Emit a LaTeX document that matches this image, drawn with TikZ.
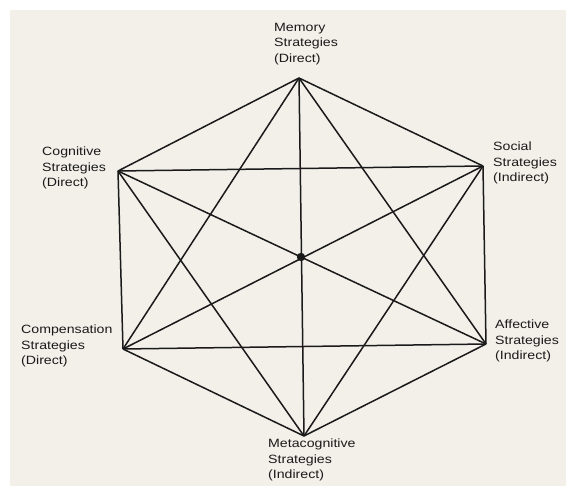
\documentclass[tikz,border=0pt]{standalone}
\usepackage{fontspec}
\setmainfont[FakeStretch=1.18]{Liberation Sans}
\definecolor{paper}{HTML}{F3F0EA}
\definecolor{ink}{HTML}{1A1A1A}
\begin{document}
\begin{tikzpicture}[x=1pt,y=-1pt,
  edge/.style={draw=ink,line width=1.5pt},
  lbl/.style={font=\fontsize{12}{15.5}\selectfont,align=left,anchor=north west,inner sep=0pt,text=ink}]
\useasboundingbox (0,0) rectangle (571,486);
\fill[white] (0,0) rectangle (571,486);
\fill[paper] (10,10) rectangle (566,486);
\coordinate (T) at (299,78);
\coordinate (UL) at (118,171);
\coordinate (UR) at (483,166);
\coordinate (LL) at (123,349);
\coordinate (LR) at (486,344);
\coordinate (B) at (304,436);
\coordinate (C) at (301,257);
\foreach \a/\b in {T/UL,T/UR,T/LL,T/LR,T/B,UL/UR,UL/LL,UL/LR,UL/B,UR/LL,UR/LR,UR/B,LL/LR,LL/B,LR/B}
  \draw[edge] (\a) -- (\b);
\fill[ink] (C) circle (4.2);
\node[lbl] (mem) at (274,23) {Memory\\Strategies\\(Direct)};
\node[lbl] (cog) at (42,147) {Cognitive\\Strategies\\(Direct)};
\node[lbl] (soc) at (493,142) {Social\\Strategies\\(Indirect)};
\node[lbl] (com) at (21,325) {Compensation\\Strategies\\(Direct)};
\node[lbl] (aff) at (495,320) {Affective\\Strategies\\(Indirect)};
\node[lbl] (met) at (268,439) {Metacognitive\\Strategies\\(Indirect)};
\end{tikzpicture}
\end{document}
